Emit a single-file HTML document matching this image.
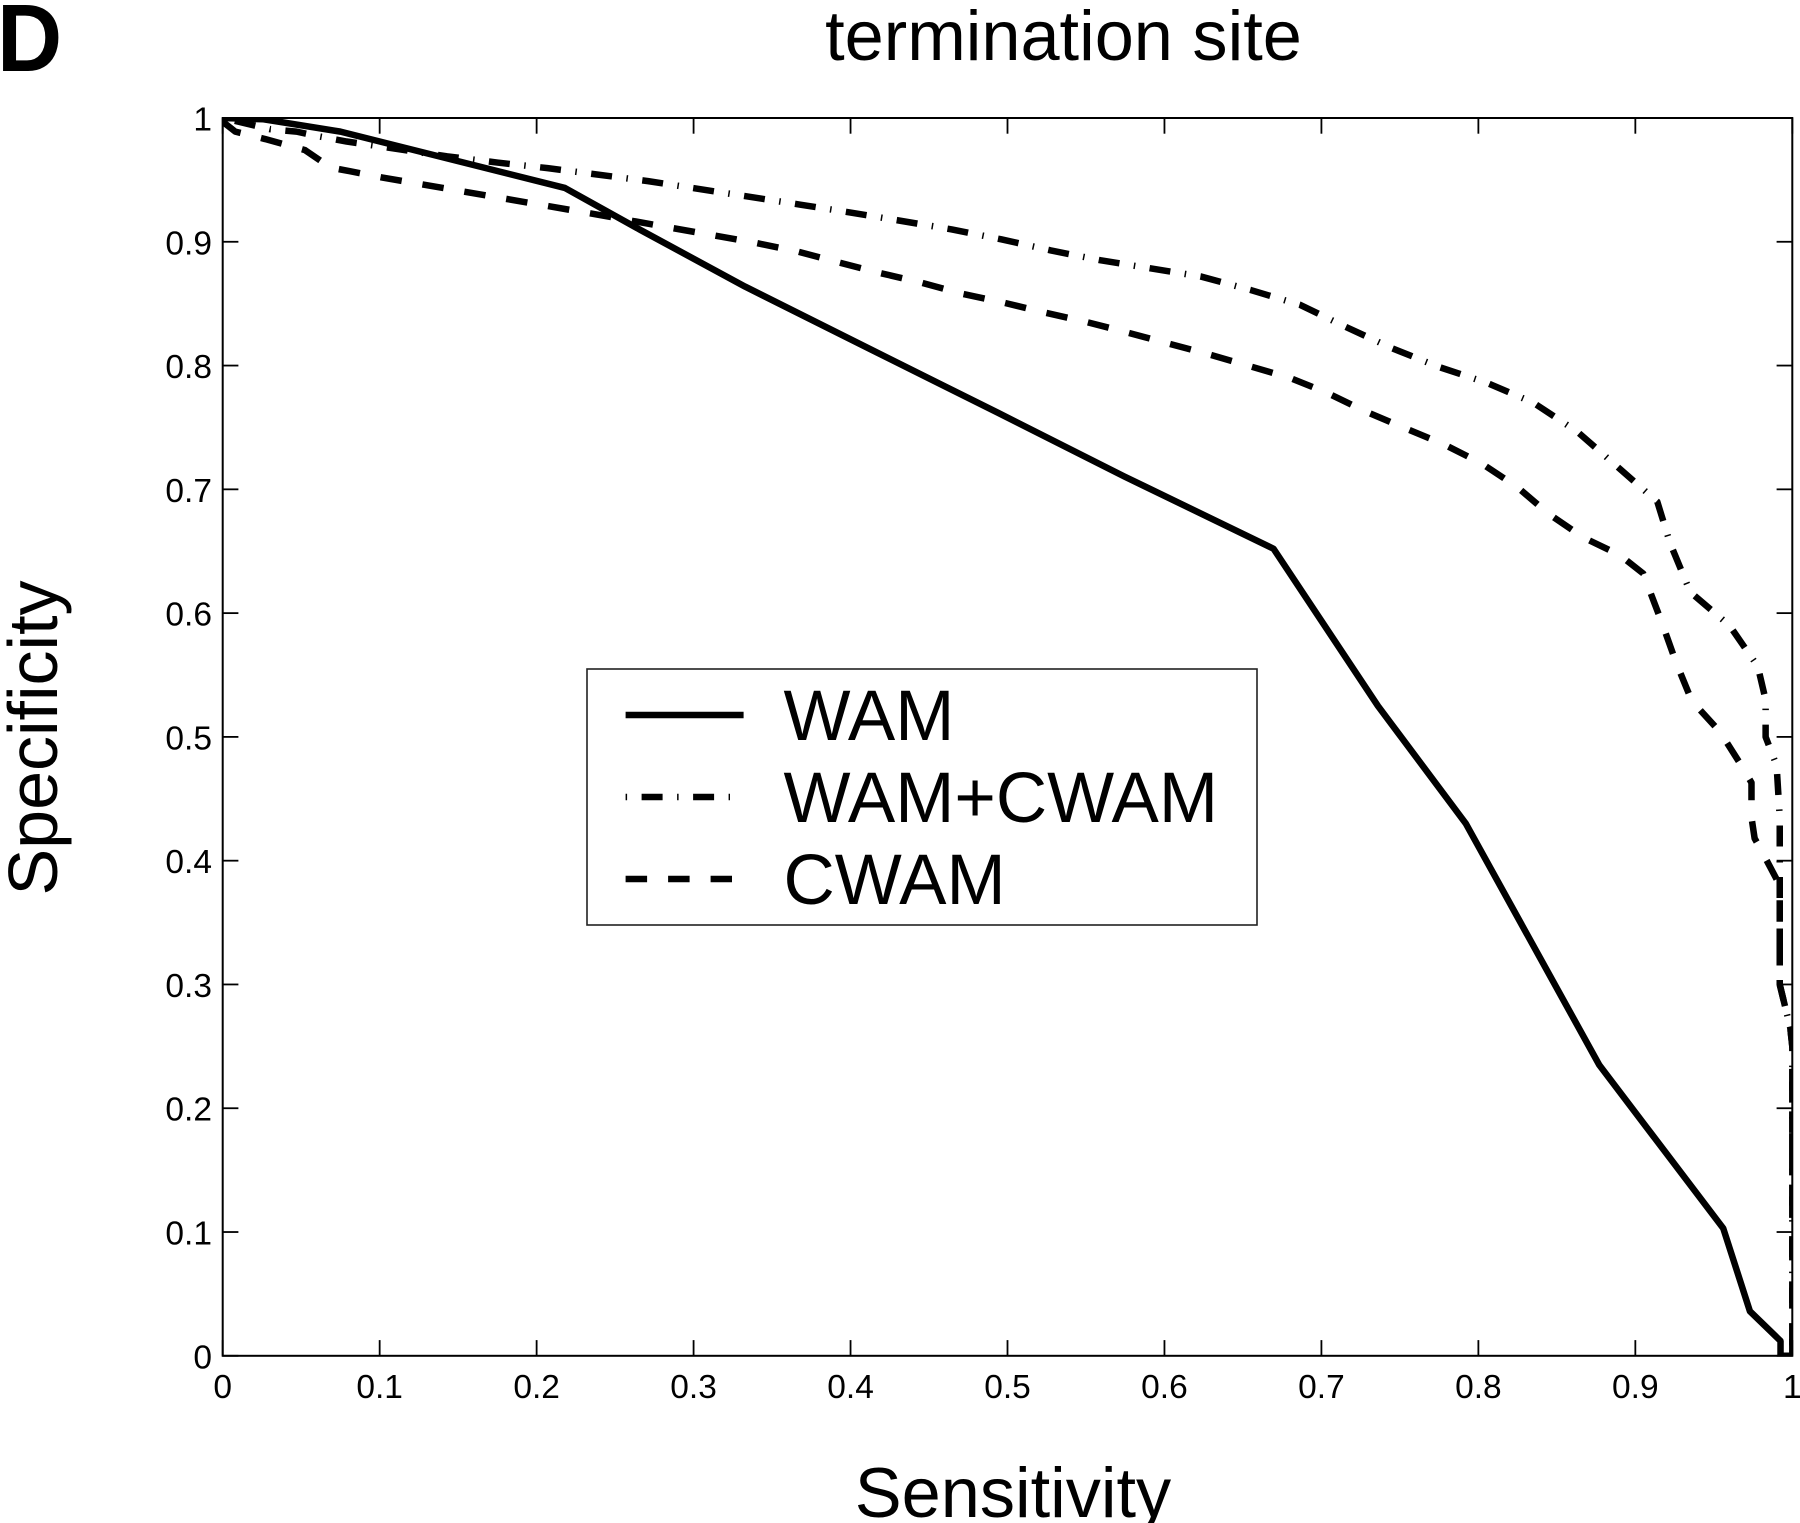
<!DOCTYPE html>
<html lang="en">
<head>
<meta charset="utf-8">
<title>termination site</title>
<style>
  html, body { margin: 0; padding: 0; background: #fff; }
  body { width: 1800px; height: 1523px; overflow: hidden; }
  svg { display: block; }
  text { font-family: "Liberation Sans", Arial, sans-serif; fill: #000; }
</style>
</head>
<body>
<svg id="chart" xmlns="http://www.w3.org/2000/svg" width="1800" height="1523" viewBox="0 0 1800 1523">
  <rect x="0" y="0" width="1800" height="1523" fill="#fff"/>
  <defs>
    <clipPath id="plot-clip"><rect x="222.7" y="118" width="1569.6" height="1238"/></clipPath>
  </defs>
  <text x="0" y="0" font-size="96" font-weight="700" transform="translate(-3 71) scale(0.94 1)">D</text>
  <text x="1063.5" y="60" font-size="70.3" text-anchor="middle">termination site</text>
  <text x="1013" y="1517" font-size="70.3" text-anchor="middle">Sensitivity</text>
  <text x="0" y="0" font-size="70" text-anchor="middle" transform="translate(57 738) rotate(-90)">Specificity</text>
  <g id="series-layer" clip-path="url(#plot-clip)"></g>
  <rect x="222.7" y="118" width="1569.6" height="1237.8" fill="none" stroke="#000" stroke-width="2"/>
  <g id="tick-layer"></g>
  <g>
    <rect x="587" y="669" width="670" height="256" fill="#fff" stroke="#222" stroke-width="1.6"/>
    <line x1="625.6" y1="715" x2="743.6" y2="715" stroke="#000" stroke-width="6.5"/>
    <line x1="625.6" y1="797" x2="730" y2="797" stroke="#000" stroke-width="6.5" stroke-dasharray="1.5 14.5 21 14.5"/>
    <line x1="625.6" y1="879" x2="732" y2="879" stroke="#000" stroke-width="6.5" stroke-dasharray="21.5 21"/>
    <text x="783.5" y="740" font-size="71">WAM</text>
    <text x="783.5" y="822" font-size="71">WAM+CWAM</text>
    <text x="783.5" y="904" font-size="71">CWAM</text>
  </g>
</svg>
<script>
var xTickLabels = ["0", "0.1", "0.2", "0.3", "0.4", "0.5", "0.6", "0.7", "0.8", "0.9", "1"];
var yTickLabels = ["0", "0.1", "0.2", "0.3", "0.4", "0.5", "0.6", "0.7", "0.8", "0.9", "1"];

var wamSensitivity = [0, 0.026, 0.075, 0.218, 0.2659, 0.3328, 0.4134, 0.494, 0.5743, 0.6695, 0.736, 0.792, 0.877, 0.956, 0.973, 0.9925, 0.9925, 1];
var wamSpecificity = [1, 0.999, 0.989, 0.9435, 0.9097, 0.8638, 0.8127, 0.7618, 0.7105, 0.652, 0.525, 0.43, 0.235, 0.103, 0.036, 0.012, 0, 0];

var comboSensitivity = [0, 0.03, 0.047, 0.062, 0.079, 0.143, 0.175, 0.207, 0.271, 0.368, 0.4, 0.4317, 0.4645, 0.496, 0.5276, 0.5595, 0.623, 0.655, 0.6865, 0.715, 0.745, 0.7745, 0.8055, 0.835, 0.863, 0.887, 0.914, 0.922, 0.935, 0.96, 0.978, 0.983, 0.983, 0.99, 0.992, 0.992, 0.9987, 1, 1];
var comboSpecificity = [1, 0.991, 0.989, 0.985, 0.981, 0.969, 0.964, 0.9595, 0.949, 0.93, 0.9236, 0.917, 0.91, 0.902, 0.893, 0.885, 0.872, 0.861, 0.849, 0.8315, 0.814, 0.799, 0.786, 0.77, 0.7466, 0.72, 0.69, 0.657, 0.617, 0.59, 0.557, 0.53, 0.5, 0.477, 0.435, 0.3, 0.265, 0.25, 0];

var cwamSensitivity = [0, 0.008, 0.027, 0.0525, 0.0686, 0.081, 0.1013, 0.234, 0.287, 0.3137, 0.34, 0.3666, 0.392, 0.418, 0.445, 0.471, 0.497, 0.523, 0.549, 0.574, 0.627, 0.653, 0.68, 0.7035, 0.728, 0.7527, 0.7776, 0.802, 0.8246, 0.845, 0.867, 0.89, 0.905, 0.917, 0.926, 0.936, 0.954, 0.968, 0.974, 0.974, 0.976, 0.98, 0.99, 0.992, 0.992, 0.9987, 1, 1];
var cwamSpecificity = [0.997, 0.989, 0.983, 0.974, 0.96, 0.957, 0.952, 0.923, 0.911, 0.905, 0.899, 0.892, 0.8835, 0.875, 0.867, 0.858, 0.851, 0.843, 0.8356, 0.8275, 0.8095, 0.8, 0.79, 0.778, 0.763, 0.7497, 0.7366, 0.721, 0.702, 0.68, 0.661, 0.647, 0.632, 0.592, 0.56, 0.529, 0.504, 0.476, 0.463, 0.435, 0.418, 0.409, 0.385, 0.37, 0.3, 0.265, 0.25, 0];

var SVG_NS = "http://www.w3.org/2000/svg";
var plotLeft = 222.7, plotRight = 1792.3, plotTop = 118, plotBottom = 1355.8;

function xScale(v) { return plotLeft + v * (plotRight - plotLeft); }
function yScale(v) { return plotBottom - v * (plotBottom - plotTop); }

function drawSeries(name, xs, ys, dash, offset) {
  var path = document.createElementNS(SVG_NS, "path");
  var d = "";
  for (var i = 0; i < xs.length; i++) {
    d += (i ? "L" : "M") + xScale(xs[i]).toFixed(2) + " " + yScale(ys[i]).toFixed(2);
  }
  
  
  path.setAttribute("d", d);
  path.setAttribute("fill", "none");
  path.setAttribute("stroke", "#000");
  path.setAttribute("stroke-width", "6.5");
  path.setAttribute("stroke-linejoin", "round");
  if (dash) { path.setAttribute("stroke-dasharray", dash); }
  if (offset) { path.setAttribute("stroke-dashoffset", offset); }
  document.getElementById("series-layer").appendChild(path);
}

function drawTickLine(x1, y1, x2, y2) {
  var tick = document.createElementNS(SVG_NS, "line");
  
  
  tick.setAttribute("x1", x1);
  tick.setAttribute("y1", y1);
  tick.setAttribute("x2", x2);
  tick.setAttribute("y2", y2);
  tick.setAttribute("stroke", "#000");
  tick.setAttribute("stroke-width", "1.8");
  document.getElementById("tick-layer").appendChild(tick);
}

function drawTickLabel(name, label, x, y, anchor) {
  var t = document.createElementNS(SVG_NS, "text");
  
  
  t.setAttribute("x", x);
  t.setAttribute("y", y);
  t.setAttribute("font-size", "33.5");
  t.setAttribute("text-anchor", anchor);
  t.textContent = label;
  document.getElementById("tick-layer").appendChild(t);
}

xTickLabels.forEach(function (label) {
  var px = xScale(parseFloat(label));
  drawTickLine(px, plotBottom, px, plotBottom - 15.7);
  drawTickLine(px, plotTop, px, plotTop + 15.7);
  drawTickLabel("x-tick-label", label, px, 1398, "middle");
});

yTickLabels.forEach(function (label) {
  var py = yScale(parseFloat(label));
  drawTickLine(plotLeft, py, plotLeft + 15.7, py);
  drawTickLine(plotRight, py, plotRight - 15.7, py);
  drawTickLabel("y-tick-label", label, 212, py + 12.5, "end");
});

drawSeries("series-cwam", cwamSensitivity, cwamSpecificity, "21.5 21", 0);
drawSeries("series-wam-cwam", comboSensitivity, comboSpecificity, "21 14.5 1.5 14.5", 39);
drawSeries("series-wam", wamSensitivity, wamSpecificity, "", 0);
</script>
</body>
</html>
